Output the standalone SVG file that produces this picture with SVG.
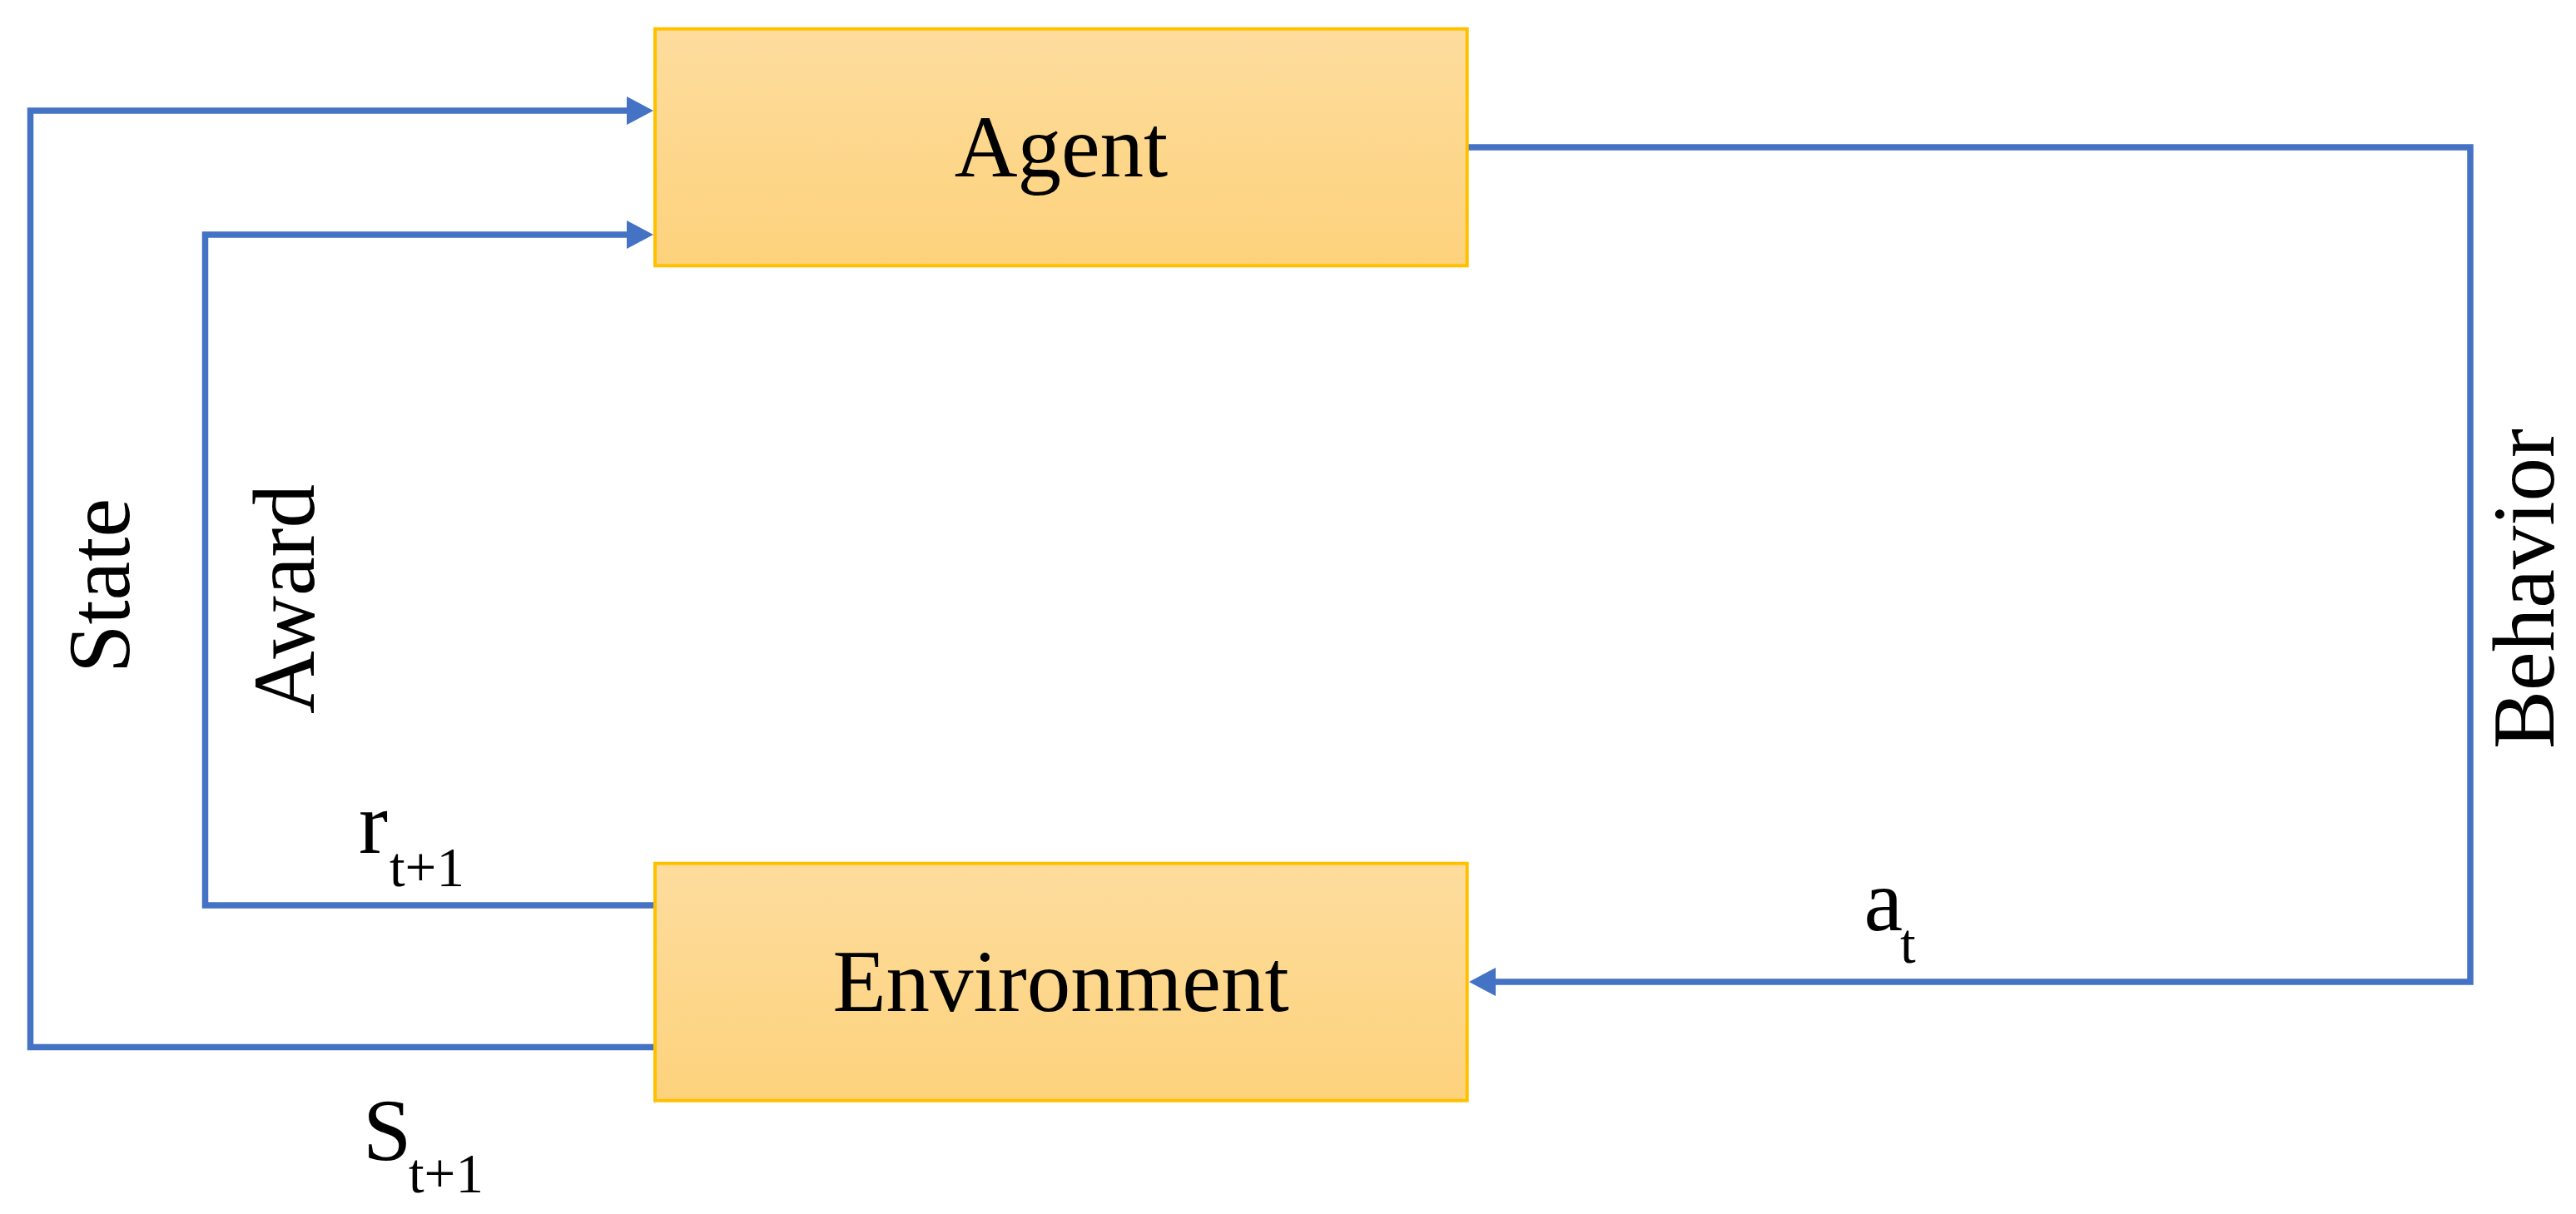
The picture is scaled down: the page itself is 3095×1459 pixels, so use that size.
<svg xmlns="http://www.w3.org/2000/svg" width="3095" height="1459" viewBox="0 0 3095 1459">
  <style>
    .box { stroke: #FFC000; stroke-width: 4; }
    .conn { fill: none; stroke: #4472C4; stroke-width: 7.5; stroke-linejoin: miter; stroke-linecap: square; }
    .lbl { font-family: "Liberation Serif", "Times New Roman", serif; font-size: 105px; fill: #000000; }
    .sub { font-size: 67px; }
  </style>
  <defs>
    <linearGradient id="gold" x1="0" y1="0" x2="0" y2="1">
      <stop offset="0" stop-color="#FDDC9D"/>
      <stop offset="1" stop-color="#FDD27C"/>
    </linearGradient>
    <marker id="arrow" viewBox="0 0 32 34" refX="4" refY="17" markerWidth="32" markerHeight="34" markerUnits="userSpaceOnUse" orient="auto">
      <path d="M0,0 L32,17 L0,34 Z" fill="#4472C4"/>
    </marker>
  </defs>

  <rect width="3095" height="1459" fill="#FFFFFF"/>

  <g id="connectors">
    <!-- State: Environment -> Agent -->
    <polyline id="state-line" class="conn" points="787,1258.5 36.5,1258.5 36.5,133 757,133" marker-end="url(#arrow)" style="stroke-linecap:butt"/>
    <!-- Award: Environment -> Agent -->
    <polyline id="award-line" class="conn" points="787,1088 246.5,1088 246.5,282 757,282" marker-end="url(#arrow)" style="stroke-linecap:butt"/>
    <!-- Behavior: Agent -> Environment -->
    <polyline id="behavior-line" class="conn" points="1763,177 2968,177 2968,1180 1793,1180" marker-end="url(#arrow)" style="stroke-linecap:butt"/>
  </g>

  <g id="agent">
    <rect class="box" x="787" y="34.7" width="975.7" height="284.6" fill="url(#gold)"/>
    <text class="lbl" x="1275" y="212" text-anchor="middle">Agent</text>
  </g>

  <g id="environment">
    <rect class="box" x="787" y="1037.7" width="975.7" height="285" fill="url(#gold)"/>
    <text class="lbl" x="1274.5" y="1215" text-anchor="middle">Environment</text>
  </g>

  <g id="labels">
    <text class="lbl" transform="translate(155,704) rotate(-90)" text-anchor="middle">State</text>
    <text class="lbl" transform="translate(377,720) rotate(-90)" text-anchor="middle">Award</text>
    <text class="lbl" transform="translate(3068,707.5) rotate(-90)" text-anchor="middle">Behavior</text>
    <text class="lbl" x="431" y="1025">r<tspan class="sub" x="468" y="1065">t+1</tspan></text>
    <text class="lbl" x="436" y="1394">S<tspan class="sub" x="491" y="1432.5">t+1</tspan></text>
    <text class="lbl" x="2239.5" y="1118">a<tspan class="sub" x="2283" y="1157">t</tspan></text>
  </g>
</svg>
